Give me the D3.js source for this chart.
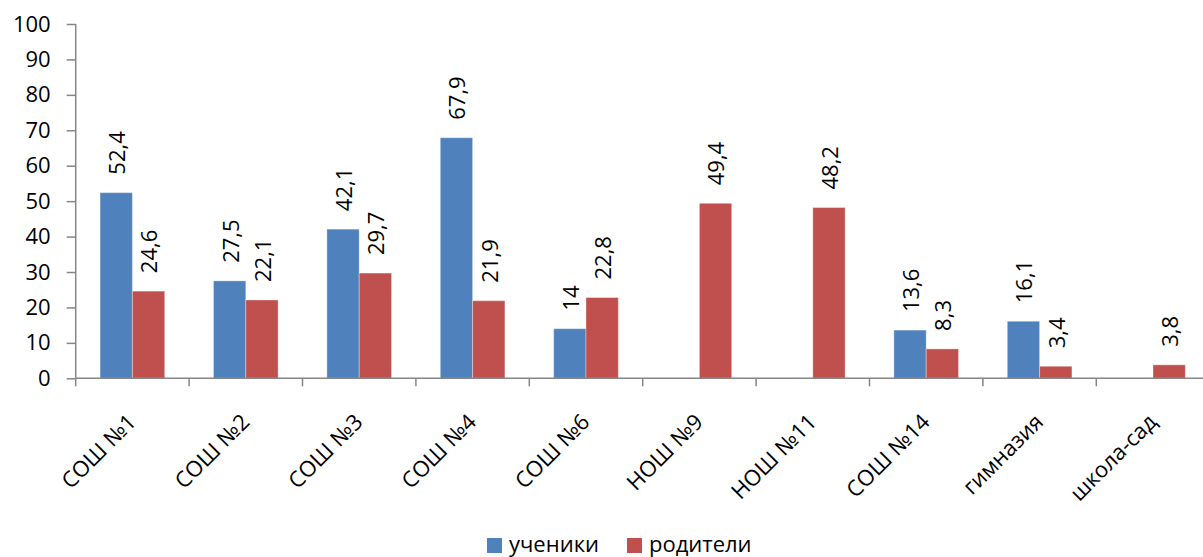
<!DOCTYPE html>
<html><head><meta charset="utf-8">
<script src="https://cdn.jsdelivr.net/npm/d3@7"></script>
<style>body{margin:0;background:#fff}svg{display:block}text{font-family:"Open Sans",sans-serif;fill:#000}</style>
</head><body>
<svg id="c" width="1203" height="557"></svg>
<script>
const categories = ["СОШ №1","СОШ №2","СОШ №3","СОШ №4","СОШ №6","НОШ №9","НОШ №11","СОШ №14","гимназия","школа-сад"];
const seriesNames = ["ученики","родители"];
const pupils = [52.4,27.5,42.1,67.9,14,null,null,13.6,16.1,null];
const parents = [24.6,22.1,29.7,21.9,22.8,49.4,48.2,8.3,3.4,3.8];
const yTicks = [0,10,20,30,40,50,60,70,80,90,100];
const colors = ["#4F81BD","#C0504D"];

const svg = d3.select("#c");
const FS = 22;
const x0 = 75.7, x1 = 1209.7, yB = 378.3, yT = 24;
const x = d3.scaleBand().domain(categories).range([x0,x1]).paddingInner(0.43).paddingOuter(0.215);
const xs = d3.scaleBand().domain(seriesNames).range([0,x.bandwidth()]);
const y = d3.scaleLinear().domain([0,100]).range([yB,yT]);
const step = x.step();
const fmt = v => String(v).replace(".", ",");

// y axis
const yAxis = svg.append("g").attr("transform",`translate(${x0},0)`)
  .call(d3.axisLeft(y).tickValues(yTicks).tickSize(9).tickPadding(16).tickFormat(d=>d));
yAxis.select(".domain").attr("stroke","#868686").attr("stroke-width",1.5).attr("d",`M-0,${yT}V${yB}`);
yAxis.selectAll(".tick line").attr("stroke","#868686").attr("stroke-width",1.5);
yAxis.selectAll(".tick text").attr("font-size",FS).attr("font-family","'Open Sans',sans-serif").attr("fill","#000");

const series = [pupils, parents];
series.forEach((vals,si)=>{
  const g = svg.append("g");
  categories.forEach((c,i)=>{
    const v = vals[i];
    if (v==null) return;
    const bx = x(c)+xs(seriesNames[si]);
    g.append("rect").attr("x",bx).attr("y",y(v)).attr("width",xs.bandwidth()).attr("height",yB-y(v))
      .attr("fill",colors[si]).attr("stroke","rgba(255,255,255,0.35)").attr("stroke-width",1);
    const cx = bx + xs.bandwidth()/2 + 1;
    g.append("text").attr("transform",`translate(${cx},${y(v)-18}) rotate(-90)`)
      .attr("dy","0.36em").attr("text-anchor","start").attr("font-size",FS).text(fmt(v));
  });
});

// x axis
const xa = svg.append("g");
xa.append("line").attr("x1",x0).attr("x2",1203).attr("y1",yB).attr("y2",yB).attr("stroke","#868686").attr("stroke-width",1.5);
categories.forEach((c,i)=>{
  const tx = x(c) - step*0.215;
  xa.append("line").attr("x1",tx).attr("x2",tx).attr("y1",yB).attr("y2",yB+8).attr("stroke","#868686").attr("stroke-width",1.5);
  const cx = x(c)+x.bandwidth()/2;
  xa.append("text").attr("transform",`translate(${cx+5},${yB+45}) rotate(-45)`)
    .attr("text-anchor","end").attr("font-size",FS).text(c);
});

// legend
const lg = svg.append("g");
const lx = [487, 627];
seriesNames.forEach((n,i)=>{
  lg.append("rect").attr("x",lx[i]).attr("y",538).attr("width",15).attr("height",15).attr("fill",colors[i]);
  lg.append("text").attr("x",lx[i]+22).attr("y",552).attr("font-size",FS).text(n);
});
</script>
</body></html>
